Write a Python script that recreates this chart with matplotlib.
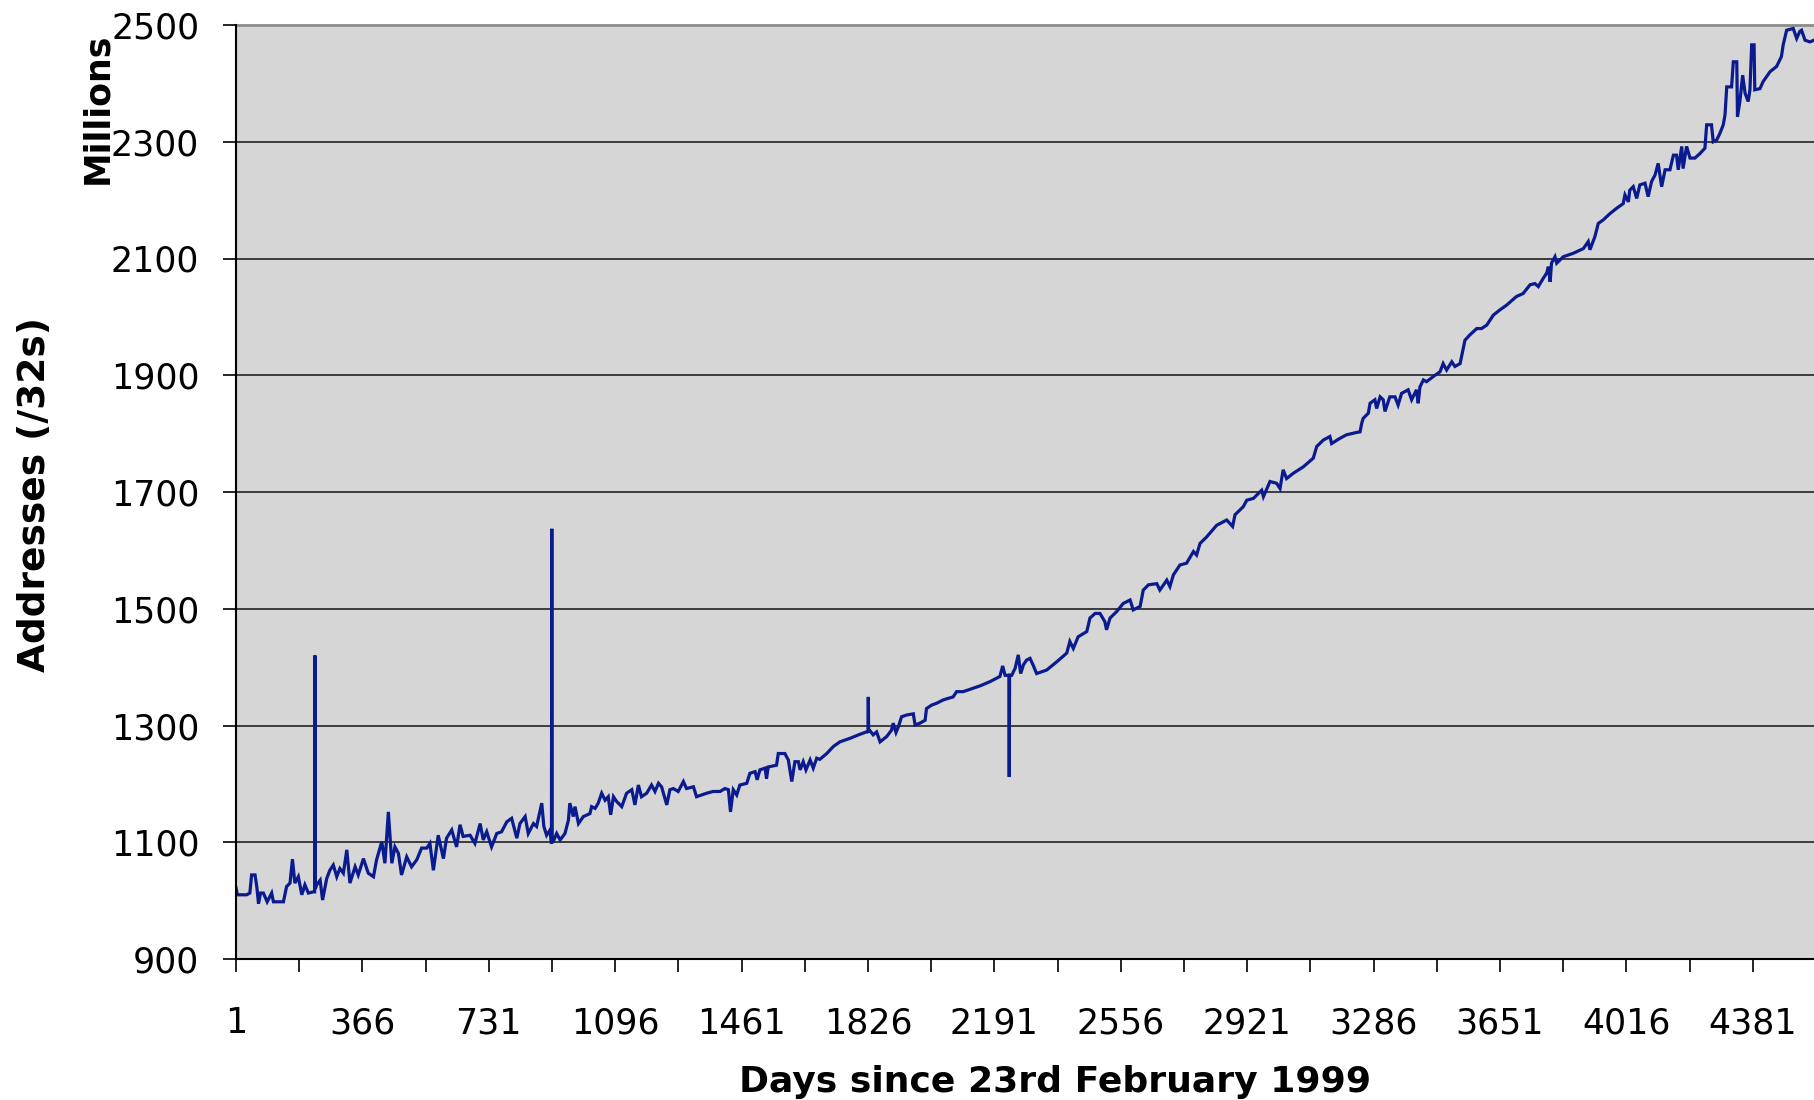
import matplotlib
matplotlib.use("Agg")
import matplotlib.pyplot as plt
from matplotlib.ticker import FixedLocator

days = [
    1, 5, 32, 41, 46, 56, 61, 66, 72, 80, 91, 104, 109, 138, 147, 157, 164, 171, 181, 191,
    200, 210, 224, 228, 229, 230, 234, 244, 251, 263, 272, 282, 292, 301, 311, 321, 330, 345,
    354, 369, 383, 398, 407, 422, 431, 441, 451, 460, 470, 479, 494, 508, 523, 537, 552, 561,
    571, 585, 600, 609, 624, 638, 648, 657, 677, 691, 706, 715, 725, 739, 754, 768, 783, 797,
    812,
    821, 836, 845, 860, 869, 884, 890, 898, 908, 912, 913, 914, 917, 927, 937, 951, 961, 965,
    975, 980, 990, 1004, 1023, 1028, 1038, 1047, 1057, 1067, 1076, 1083, 1091, 1100, 1115,
    1129, 1144, 1153, 1163, 1172, 1187, 1201, 1211, 1221, 1230, 1245, 1254, 1264, 1278, 1293,
    1302, 1322, 1331, 1360, 1379, 1399, 1413, 1423, 1429, 1437, 1447, 1456, 1476, 1485, 1500,
    1506, 1514, 1529, 1533, 1538, 1562, 1567, 1586, 1596, 1606, 1615, 1625, 1630, 1639, 1647,
    1659, 1668, 1678,
    1687, 1707, 1726, 1745, 1774, 1803, 1822, 1826, 1827, 1828, 1832, 1841, 1851, 1861, 1880,
    1894, 1899, 1907, 1914, 1923, 1938, 1957, 1962, 1976, 1991, 1995, 2010, 2024, 2044, 2072,
    2082, 2101, 2130, 2150, 2178, 2207, 2215, 2222, 2231, 2233, 2234, 2235, 2241, 2251, 2260,
    2267, 2275, 2284, 2294, 2304, 2313, 2342, 2371, 2400, 2409, 2419, 2433, 2458,
    2467, 2482, 2496, 2510, 2515, 2525, 2544, 2563, 2583, 2592, 2612, 2621, 2636, 2660, 2669,
    2689, 2698, 2708, 2727, 2746, 2766, 2775, 2785, 2804, 2833, 2862, 2879, 2886, 2910, 2920,
    2939, 2963, 2968, 2987, 3006, 3016, 3025, 3035, 3054, 3083, 3112, 3122, 3141, 3160, 3165,
    3189, 3208, 3237, 3247,
    3252, 3256, 3271, 3276, 3290, 3295, 3305, 3314, 3319, 3333, 3348, 3357, 3367, 3386, 3396,
    3410, 3415, 3420, 3430, 3439, 3459, 3478, 3487, 3497, 3512, 3521, 3536, 3550, 3564, 3584,
    3598, 3613, 3632, 3651, 3670, 3699, 3718, 3738, 3752, 3762, 3776, 3786, 3791, 3796, 3800,
    3810, 3815, 3834, 3863, 3892, 3906, 3911, 3925, 3935, 3949,
    3969, 3988, 4007, 4012, 4022, 4026, 4036, 4046, 4055, 4070, 4079, 4089, 4099, 4108, 4118,
    4128, 4142, 4152, 4161, 4166, 4176, 4180, 4190, 4200, 4214, 4229, 4243, 4248, 4262, 4267,
    4277, 4286, 4296, 4301, 4306, 4320, 4325, 4335, 4337, 4344, 4352, 4359, 4368, 4373, 4378,
    4385, 4387, 4402, 4411, 4431, 4450, 4464, 4469, 4479, 4498, 4508, 4517, 4522, 4532, 4546,
    4558,
]

addresses = [
    1022, 1010, 1010, 1013, 1044, 1044, 1024, 995, 1013, 1013, 998, 1013, 998, 998, 1024, 1030,
    1071, 1030, 1041, 1010, 1027, 1013, 1015, 1015, 1420, 1020, 1027, 1035, 1001, 1038, 1052,
    1061, 1041, 1055, 1047, 1087, 1030, 1058, 1044, 1072, 1047, 1041, 1070, 1101, 1064, 1152,
    1064, 1092, 1081, 1044, 1075, 1058, 1070, 1090, 1090, 1098, 1052, 1112, 1072, 1107, 1121,
    1092, 1130, 1110, 1112, 1098, 1132, 1104, 1118, 1092, 1115, 1118, 1135, 1141, 1107,
    1132, 1144, 1115, 1132, 1127, 1167, 1127, 1112, 1121, 1098, 1637, 1101, 1101, 1115, 1104,
    1115, 1138, 1167, 1144, 1161, 1132, 1144, 1149, 1161, 1158, 1167, 1184, 1172, 1178, 1147,
    1178, 1170, 1161, 1184, 1190, 1164, 1198, 1178, 1184, 1198, 1187, 1201, 1195, 1164, 1190,
    1192, 1187, 1204, 1192, 1195, 1178, 1184, 1187, 1187, 1192, 1190, 1152, 1190, 1181, 1198,
    1201, 1218, 1221, 1207, 1224, 1227, 1209, 1229, 1232, 1252, 1252, 1241, 1204, 1238, 1238,
    1224, 1238, 1224, 1241, 1227, 1244,
    1242, 1252, 1264, 1272, 1278, 1285, 1289, 1290, 1349, 1290, 1291, 1284, 1289, 1272, 1281,
    1292, 1304, 1288, 1298, 1315, 1318, 1320, 1301, 1304, 1309, 1329, 1335, 1338, 1344, 1349,
    1358, 1358, 1364, 1368, 1375, 1384, 1402, 1386, 1386, 1386, 1212, 1386, 1386, 1398, 1421,
    1389, 1404, 1412, 1415, 1402, 1389, 1395, 1409, 1424, 1444, 1432, 1452, 1461,
    1484, 1492, 1492, 1478, 1464, 1484, 1495, 1509, 1515, 1498, 1504, 1532, 1541, 1543, 1532,
    1549, 1538, 1558, 1575, 1578, 1598, 1592, 1612, 1623, 1643, 1652, 1641, 1661, 1675, 1686,
    1689, 1703, 1692, 1718, 1715, 1706, 1738, 1723, 1732, 1743, 1758, 1778, 1789, 1795, 1783,
    1792, 1798, 1802, 1803,
    1818, 1826, 1835, 1852, 1858, 1843, 1863, 1858, 1838, 1863, 1863, 1849, 1869, 1875, 1858,
    1875, 1852, 1880, 1892, 1889, 1898, 1906, 1920, 1909, 1923, 1915, 1920, 1960, 1969, 1980,
    1980, 1986, 2003, 2012, 2020, 2035, 2040, 2055, 2057, 2052, 2066, 2075, 2086, 2060, 2092,
    2103, 2092, 2103, 2109, 2117, 2129, 2115, 2137, 2160, 2166,
    2177, 2186, 2194, 2209, 2197, 2217, 2223, 2203, 2226, 2229, 2206, 2232, 2243, 2263, 2223,
    2252, 2252, 2277, 2277, 2252, 2292, 2254, 2292, 2272, 2272, 2280, 2289, 2329, 2329, 2300,
    2303, 2314, 2329, 2346, 2394, 2394, 2437, 2437, 2343, 2369, 2414, 2383, 2369, 2389, 2466,
    2466, 2389, 2391, 2403, 2420, 2429, 2446, 2466, 2491, 2494, 2477, 2489, 2491, 2474, 2471,
    2474,
]

x_tick_labels = ["1", "366", "731", "1096", "1461", "1826", "2191", "2556",
                 "2921", "3286", "3651", "4016", "4381"]
y_ticks = [900, 1100, 1300, 1500, 1700, 1900, 2100, 2300, 2500]

fig = plt.figure(figsize=(18.14, 11), dpi=100)
ax = fig.add_axes([236 / 1814, 1 - 959 / 1100, 1 - 236 / 1814, (959 - 25) / 1100])
ax.set_facecolor("#d6d6d6")

ax.plot(days, addresses, color="#0a1a8f", linewidth=2.3, solid_joinstyle="miter")

ax.set_xlim(1, 4558)
ax.set_ylim(900, 2500)

major_x = [int(s) for s in x_tick_labels]
ax.set_xticks(major_x)
ax.set_xticklabels(x_tick_labels)
ax.xaxis.set_minor_locator(FixedLocator([v + 182.5 for v in major_x]))
ax.set_yticks(y_ticks)
ax.set_yticklabels([str(v) for v in y_ticks])

for v in y_ticks[1:-1]:
    ax.axhline(v, color="#3c3c3c", linewidth=1.4, zorder=1)
ax.axhline(2500, color="#8c8c8c", linewidth=2.0, zorder=1, clip_on=False)

for s in ["top", "right"]:
    ax.spines[s].set_visible(False)
for s in ["left", "bottom"]:
    ax.spines[s].set_color("black")
    ax.spines[s].set_linewidth(1.5)

ax.tick_params(axis="x", which="both", direction="out", length=9, width=1.2,
               color="black", labelsize=25, pad=25)
ax.tick_params(axis="y", which="major", direction="out", length=9.5, width=1.2,
               color="black", labelsize=25, pad=17)

fig.text(35 / 1814, 1 - 494 / 1100, "Addresses (/32s)", rotation=90, fontsize=27,
         fontweight="bold", ha="center", va="center")
fig.text(97 / 1814, 1 - 33 / 1100, "Millions", rotation=90, fontsize=25,
         fontweight="bold", ha="center", va="top")
fig.text(1055 / 1814, 1 - 1092 / 1100, "Days since 23rd February 1999", fontsize=26,
         fontweight="bold", ha="center", va="baseline")

fig.savefig("out.png", dpi=100)
